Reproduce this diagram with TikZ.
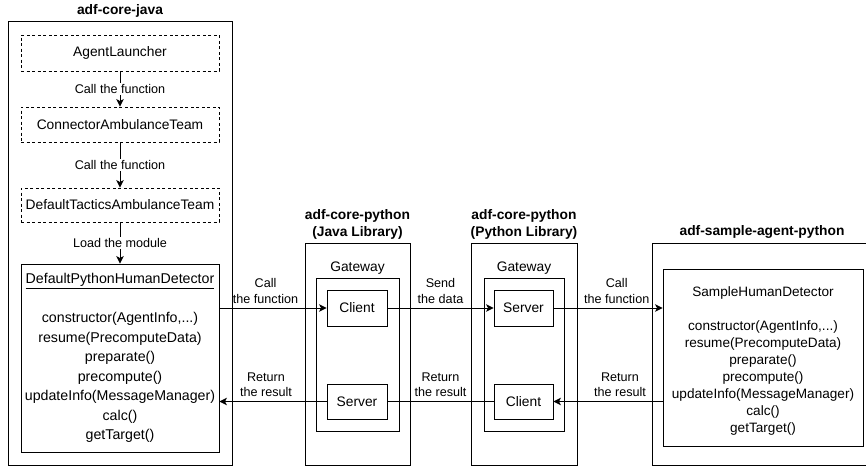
\documentclass[tikz,border=0pt]{standalone}
\usepackage{fontspec}
\setmainfont{Liberation Sans}
\usetikzlibrary{arrows.meta}
\begin{document}
\begin{tikzpicture}[x=1pt,y=-1pt,
  box/.style={draw, line width=0.9pt, inner sep=0pt, anchor=center},
  dbox/.style={box, dash pattern=on 3pt off 2.5pt, font=\fontsize{13.8}{16}\selectfont},
  plain/.style={box, font=\fontsize{13.8}{16}\selectfont},
  ttl/.style={font=\bfseries\fontsize{13.8}{17}\selectfont, align=center, inner sep=0pt},
  lbl/.style={font=\fontsize{12.6}{15.5}\selectfont, align=center, inner sep=1pt},
  lblup/.style={lbl, above, inner sep=0pt, yshift=4pt},
  arr/.style={line width=0.9pt, -{Stealth[length=7.5pt,width=7.5pt,inset=2pt]}},
  ln/.style={line width=0.9pt}
]
\useasboundingbox (0,0) rectangle (866,466);
\clip (0,0) rectangle (866,466);

% adf-core-java
\node[ttl] (javat) at (120,11) {adf-core-java};
\node[box, minimum width=224pt, minimum height=444pt] (java) at (120,243) {};
\node[dbox, minimum width=198pt, minimum height=36pt] (launcher) at (120,53) {AgentLauncher};
\node[dbox, minimum width=198pt, minimum height=35pt] (connector) at (120,124.5) {ConnectorAmbulanceTeam};
\node[dbox, minimum width=198pt, minimum height=34pt] (tactics) at (120,205) {DefaultTacticsAmbulanceTeam};
\node[box, minimum width=198pt, minimum height=188pt, align=center,
      font=\fontsize{14.2}{19.5}\selectfont] (dphd) at (120,358)
  {\underline{DefaultPythonHumanDetector}\\[19.5pt]
   constructor(AgentInfo,...)\\ resume(PrecomputeData)\\ preparate()\\ precompute()\\
   updateInfo(MessageManager)\\ calc()\\ getTarget()};

\draw[arr] (launcher) -- node[lbl, fill=white] {Call the function} (connector);
\draw[arr] (connector) -- node[lbl, fill=white] {Call the function} (tactics);
\draw[arr] (tactics) -- node[lbl, fill=white] {Load the module} (dphd);

% adf-core-python (Java Library)
\node[ttl] (jlibt) at (357.5,224.5) {adf-core-python\\(Java Library)};
\node[box, minimum width=105pt, minimum height=222pt] (jlib) at (357.5,354) {};
\node[lbl, inner sep=0pt] (gw1t) at (357.5,268) {\fontsize{13.8}{16}\selectfont Gateway};
\node[box, minimum width=83pt, minimum height=153pt] (gw1) at (357.5,354.5) {};
\node[plain, minimum width=60pt, minimum height=36pt] (client1) at (357,308) {Client};
\node[plain, minimum width=60pt, minimum height=35pt] (server1) at (357,401.5) {Server};

% adf-core-python (Python Library)
\node[ttl] (plibt) at (524,224.5) {adf-core-python\\(Python Library)};
\node[box, minimum width=106pt, minimum height=222pt] (plib) at (524,354) {};
\node[lbl, inner sep=0pt] (gw2t) at (524,268) {\fontsize{13.8}{16}\selectfont Gateway};
\node[box, minimum width=80pt, minimum height=153pt] (gw2) at (524,354.5) {};
\node[plain, minimum width=59pt, minimum height=36pt] (server2) at (523.5,308) {Server};
\node[plain, minimum width=59pt, minimum height=35pt] (client2) at (523.5,401.5) {Client};

% adf-sample-agent-python
\node[ttl] (samplet) at (762,232) {adf-sample-agent-python};
\node[box, minimum width=220pt, minimum height=222pt] (sample) at (762,354) {};
\node[box, minimum width=200pt, minimum height=177pt] (shd) at (763,357.5) {};
\node[align=center, inner sep=0pt, font=\fontsize{13.6}{16.9}\selectfont] (shdtext) at (763,361)
  {SampleHumanDetector\\[16.9pt]
   constructor(AgentInfo,...)\\ resume(PrecomputeData)\\ preparate()\\ precompute()\\
   updateInfo(MessageManager)\\ calc()\\ getTarget()};

% connectors
\draw[arr] (client1.west -| dphd.east) -- node[lblup, pos=0.43] {Call\\the function} (client1.west);
\draw[arr] (client1.east) -- node[lblup] {Send\\the data} (server2.west);
\draw[arr] (server2.east) -- node[lblup, pos=0.58] {Call\\the function} (server2.east -| shd.west);
\draw[arr] (client2.east -| shd.west) -- node[lblup, pos=0.39] {Return\\the result} (client2.east);
\draw[ln] (client2.west) -- node[lblup] {Return\\the result} (server1.east);
\draw[arr] (server1.west) -- node[lblup, pos=0.565] {Return\\the result} (server1.west -| dphd.east);
\end{tikzpicture}
\end{document}
